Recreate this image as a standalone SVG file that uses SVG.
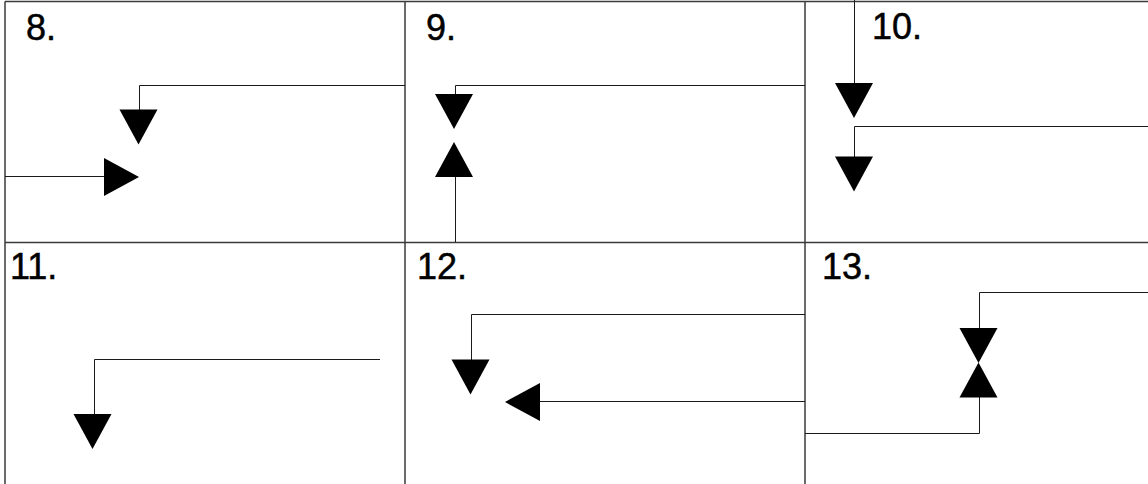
<svg xmlns="http://www.w3.org/2000/svg" xmlns:xlink="http://www.w3.org/1999/xlink" width="1148" height="484" viewBox="0 0 1148 484">
  <style>
    .grid { stroke: #3a3a3a; stroke-width: 1.5; fill: none; }
    .wire { stroke: #1a1a1a; stroke-width: 1; fill: none; }
    .head { fill: #000; stroke: none; }
    .lbl { font-family: "Liberation Sans", Arial, sans-serif; font-size: 36px; fill: #000; stroke: #000; stroke-width: 0.5; }
  </style>
  <defs>
    <path id="tri" d="M-19,0 L19,0 L0,35 Z"/>
  </defs>
  <rect width="1148" height="484" fill="#fff"/>
  <g id="grid">
    <line class="grid" x1="5" y1="1.5" x2="1148" y2="1.5"/>
    <line class="grid" x1="5" y1="242.5" x2="1148" y2="242.5"/>
    <line class="grid" x1="5" y1="1.5" x2="5" y2="484"/>
    <line class="grid" x1="405" y1="1.5" x2="405" y2="484"/>
    <line class="grid" x1="805" y1="1.5" x2="805" y2="484"/>
  </g>
  <g id="panel-8"><text class="lbl" x="26" y="40">8.</text></g>
  <g id="panel-9"><text class="lbl" x="426" y="40">9.</text></g>
  <g id="panel-10"><text class="lbl" x="872" y="39">10.</text></g>
  <g id="panel-11"><text class="lbl" x="10" y="279">11.</text></g>
  <g id="panel-12"><text class="lbl" x="417" y="279">12.</text></g>
  <g id="panel-13"><text class="lbl" x="822" y="279">13.</text></g>
  <g id="connectors">
    <!-- 8 -->
    <polyline class="wire" points="405,85.5 139.5,85.5 139.5,110"/>
    <use xlink:href="#tri" class="head" transform="translate(138.5,109.5)"/>
    <line class="wire" x1="5" y1="176.5" x2="105" y2="176.5"/>
    <use xlink:href="#tri" class="head" transform="translate(104,177) rotate(-90)"/>
    <!-- 9 -->
    <polyline class="wire" points="805,85.5 455.5,85.5 455.5,95"/>
    <use xlink:href="#tri" class="head" transform="translate(454,94)"/>
    <line class="wire" x1="455.5" y1="176" x2="455.5" y2="242"/>
    <use xlink:href="#tri" class="head" transform="translate(454,177) rotate(180)"/>
    <!-- 10 -->
    <line class="wire" x1="854.5" y1="0" x2="854.5" y2="84"/>
    <use xlink:href="#tri" class="head" transform="translate(854,83)"/>
    <polyline class="wire" points="1148,126.5 854.5,126.5 854.5,157"/>
    <use xlink:href="#tri" class="head" transform="translate(854,156.5)"/>
    <!-- 11 -->
    <polyline class="wire" points="380,359.5 94.5,359.5 94.5,415"/>
    <use xlink:href="#tri" class="head" transform="translate(92.5,414)"/>
    <!-- 12 -->
    <polyline class="wire" points="805,314.5 471.5,314.5 471.5,360"/>
    <use xlink:href="#tri" class="head" transform="translate(470.5,359.5)"/>
    <line class="wire" x1="805" y1="401.5" x2="539" y2="401.5"/>
    <use xlink:href="#tri" class="head" transform="translate(540,402) rotate(90)"/>
    <!-- 13 -->
    <polyline class="wire" points="1148,292.5 979.5,292.5 979.5,329"/>
    <use xlink:href="#tri" class="head" transform="translate(978.5,328)"/>
    <polyline class="wire" points="805,433.5 979.5,433.5 979.5,396"/>
    <use xlink:href="#tri" class="head" transform="translate(978.5,397.5) rotate(180)"/>
  </g>
</svg>
